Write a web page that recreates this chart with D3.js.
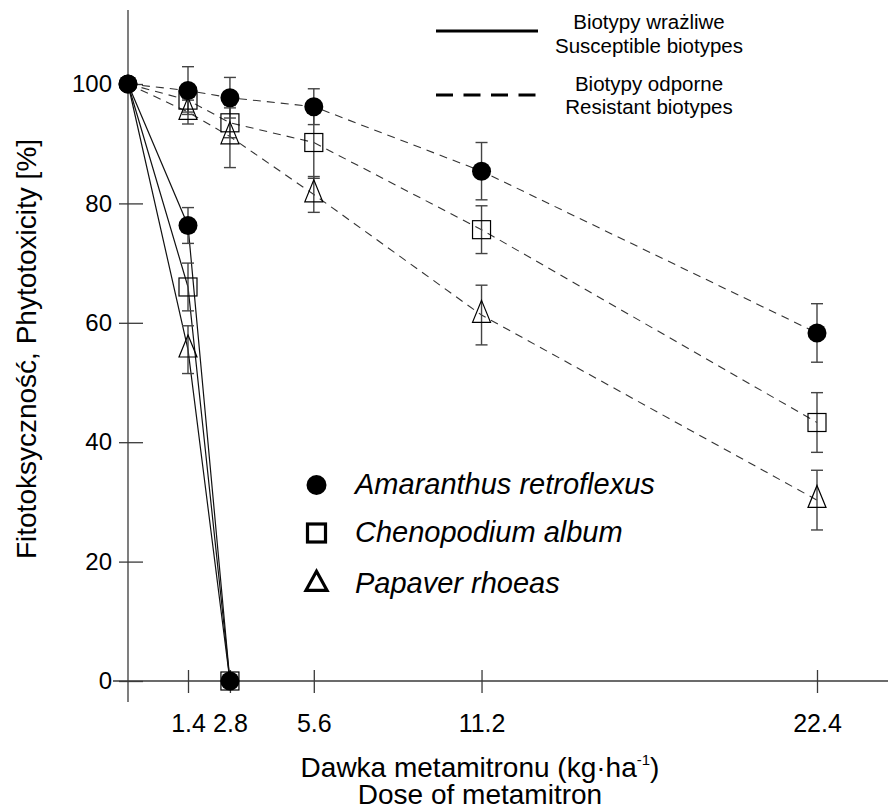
<!DOCTYPE html>
<html>
<head>
<meta charset="utf-8">
<script src="https://cdn.jsdelivr.net/npm/d3@7"></script>
<style>
  html, body { margin: 0; padding: 0; background: #fff; }
  svg { display: block; font-family: "Liberation Sans", Arial, Helvetica, sans-serif; }
</style>
</head>
<body>
<svg id="chart" width="888" height="812"></svg>
<script>
// Dose levels of metamitron (kg/ha); 0 = untreated reference
const doses = [0, 1.4, 2.8, 5.6, 11.2, 22.4];
const xTickValues = [1.4, 2.8, 5.6, 11.2, 22.4];
const xTickLabels = ["1.4", "2.8", "5.6", "11.2", "22.4"];
const yTickValues = [0, 20, 40, 60, 80, 100];

// Resistant biotypes (dashed lines): phytotoxicity % and error
const amaranthusR    = [100, 98.9, 97.7, 96.2, 85.4, 58.3];
const amaranthusRErr = [0, 4, 3.4, 3, 4.8, 4.9];
const chenopodiumR    = [100, 97.3, 93.5, 90.2, 75.6, 43.3];
const chenopodiumRErr = [0, 2, 2.5, 6, 4, 5];
const papaverR    = [100, 95.3, 91.2, 81.5, 61.3, 30.3];
const papaverRErr = [0, 2, 5.2, 3, 5, 5];

// Susceptible biotypes (solid lines)
const susDoses = [0, 1.4, 2.8];
const amaranthusS    = [100, 76.3, 0];
const amaranthusSErr = [0, 3, 0];
const chenopodiumS    = [100, 66, 0];
const chenopodiumSErr = [0, 4, 0];
const papaverS    = [100, 55.5, 0];
const papaverSErr = [0, 4, 0];

const speciesNames = ["Amaranthus retroflexus", "Chenopodium album", "Papaver rhoeas"];
const biotypeLabels = [["Biotypy wrażliwe", "Susceptible biotypes"], ["Biotypy odporne", "Resistant biotypes"]];

const svg = d3.select("#chart");
const W = 888;

// Control sits on the vertical axis; treated doses follow a linear spacing
const x = d3.scaleLinear().domain([0, 1.4, 22.4]).range([128, 188, 817]);
const y = d3.scaleLinear().domain([0, 100]).range([681, 84]);

const axisColor = "#3a3a3a";

// ---- axes ----
const gAxes = svg.append("g");
gAxes.append("line")
  .attr("x1", x(0)).attr("x2", x(0))
  .attr("y1", 10).attr("y2", 702)
  .attr("stroke", axisColor).attr("stroke-width", 1.3);
gAxes.append("line")
  .attr("x1", 113).attr("x2", W)
  .attr("y1", y(0)).attr("y2", y(0))
  .attr("stroke", axisColor).attr("stroke-width", 1.3);

const yAxis = d3.axisLeft(y).tickValues(yTickValues).tickSize(0).tickPadding(16).tickFormat(d3.format("d"));
const gy = svg.append("g").attr("transform", `translate(${x(0)},0)`).call(yAxis);
gy.select(".domain").remove();
gy.selectAll(".tick text").attr("font-size", 24).attr("fill", "#000")
  .attr("font-family", '"Liberation Sans", Arial, sans-serif');
gy.selectAll(".tick").append("line")
  .attr("x1", -9).attr("x2", 15)
  .attr("stroke", axisColor).attr("stroke-width", 1.3);

const xAxis = d3.axisBottom(x).tickValues(xTickValues).tickSize(0).tickPadding(33)
  .tickFormat((d, i) => xTickLabels[i]);
const gx = svg.append("g").attr("transform", `translate(0,${y(0)})`).call(xAxis);
gx.select(".domain").remove();
gx.selectAll(".tick text").attr("font-size", 25).attr("fill", "#000")
  .attr("font-family", '"Liberation Sans", Arial, sans-serif');
gx.selectAll(".tick").append("line")
  .attr("y1", -11).attr("y2", 12)
  .attr("stroke", axisColor).attr("stroke-width", 1.3);

// ---- axis titles ----
const xTitle = svg.append("text")
  .attr("x", 480).attr("y", 777)
  .attr("text-anchor", "middle").attr("font-size", 28).attr("fill", "#000");
xTitle.append("tspan").text("Dawka metamitronu (kg·ha");
xTitle.append("tspan").attr("font-size", 15).attr("dy", -12).text("-1");
xTitle.append("tspan").attr("dy", 12).text(")");

svg.append("text")
  .attr("x", 480).attr("y", 804)
  .attr("text-anchor", "middle").attr("font-size", 28).attr("fill", "#000")
  .text("Dose of metamitron");

svg.append("text")
  .attr("transform", "translate(36,349) rotate(-90)")
  .attr("text-anchor", "middle").attr("font-size", 28).attr("fill", "#000")
  .text("Fitotoksyczność, Phytotoxicity [%]");

// ---- series ----
function rows(ds, vals, errs) {
  return ds.map((d, i) => ({ dose: d, v: vals[i], e: errs[i] }));
}
const series = [
  { kind: "circle",   type: "R", data: rows(doses, amaranthusR, amaranthusRErr) },
  { kind: "square",   type: "R", data: rows(doses, chenopodiumR, chenopodiumRErr) },
  { kind: "triangle", type: "R", data: rows(doses, papaverR, papaverRErr) },
  { kind: "circle",   type: "S", data: rows(susDoses, amaranthusS, amaranthusSErr) },
  { kind: "square",   type: "S", data: rows(susDoses, chenopodiumS, chenopodiumSErr) },
  { kind: "triangle", type: "S", data: rows(susDoses, papaverS, papaverSErr) }
];

const line = d3.line().x(d => x(d.dose)).y(d => y(d.v));

const gLines = svg.append("g");
series.forEach(s => {
  gLines.append("path")
    .attr("d", line(s.data))
    .attr("fill", "none")
    .attr("stroke", s.type === "R" ? "#333" : "#111")
    .attr("stroke-width", s.type === "R" ? 1.1 : 1.2)
    .attr("stroke-dasharray", s.type === "R" ? "8,6" : null);
});

// error bars
const gErr = svg.append("g").attr("stroke", "#444").attr("stroke-width", 1.4);
series.forEach(s => {
  s.data.filter(d => d.e > 0).forEach(d => {
    const cx = x(d.dose);
    gErr.append("line").attr("x1", cx).attr("x2", cx).attr("y1", y(d.v + d.e)).attr("y2", y(d.v - d.e));
    gErr.append("line").attr("x1", cx - 6).attr("x2", cx + 6).attr("y1", y(d.v + d.e)).attr("y2", y(d.v + d.e));
    gErr.append("line").attr("x1", cx - 6).attr("x2", cx + 6).attr("y1", y(d.v - d.e)).attr("y2", y(d.v - d.e));
  });
});

// marker shapes
function triPath(w, h) {
  // centroid at origin, apex up
  return `M0,${-h * 2 / 3}L${w / 2},${h / 3}L${-w / 2},${h / 3}Z`;
}
function drawMarker(g, kind, cx, cy, big) {
  if (kind === "circle") {
    g.append("circle").attr("cx", cx).attr("cy", cy).attr("r", big ? 10 : 9.5).attr("fill", "#000");
  } else if (kind === "square") {
    const s = 18;
    g.append("rect").attr("x", cx - s / 2).attr("y", cy - s / 2).attr("width", s).attr("height", s)
      .attr("fill", "none").attr("stroke", "#000").attr("stroke-width", big ? 3.2 : 1.2);
  } else {
    g.append("path").attr("transform", `translate(${cx},${cy})`)
      .attr("d", big ? triPath(21, 19) : triPath(18, 22))
      .attr("fill", "none").attr("stroke", "#000").attr("stroke-width", big ? 3.2 : 1.2)
      .attr("stroke-linejoin", "miter");
  }
}

const gMarks = svg.append("g");
["square", "triangle", "circle"].forEach(kind => {
  series.filter(s => s.kind === kind).forEach(s => {
    s.data.forEach(d => {
      if (kind !== "circle" && (d.dose === 0 || (d.v === 0 && kind === "triangle"))) return;
      drawMarker(gMarks, kind, x(d.dose), y(d.v), false);
    });
  });
});

// ---- species legend ----
const legendKinds = ["circle", "square", "triangle"];
const legendY = [485, 533, 584];
const gLeg = svg.append("g");
speciesNames.forEach((name, i) => {
  drawMarker(gLeg, legendKinds[i], 316.5, legendY[i], true);
  gLeg.append("text")
    .attr("x", 355).attr("y", legendY[i] + 9)
    .attr("font-size", 29).attr("font-style", "italic").attr("fill", "#000")
    .text(name);
});

// ---- biotype legend ----
const gBio = svg.append("g");
const bioLineY = [31, 95];
const bioTextY = [[29, 52.5], [91, 114]];
biotypeLabels.forEach((lab, i) => {
  gBio.append("line")
    .attr("x1", 436).attr("x2", 538)
    .attr("y1", bioLineY[i]).attr("y2", bioLineY[i])
    .attr("stroke", "#000").attr("stroke-width", 3)
    .attr("stroke-dasharray", i === 1 ? "17,10.5" : null);
  lab.forEach((t, j) => {
    gBio.append("text")
      .attr("x", 649).attr("y", bioTextY[i][j])
      .attr("text-anchor", "middle").attr("font-size", 20.5).attr("fill", "#000")
      .text(t);
  });
});
</script>
</body>
</html>
